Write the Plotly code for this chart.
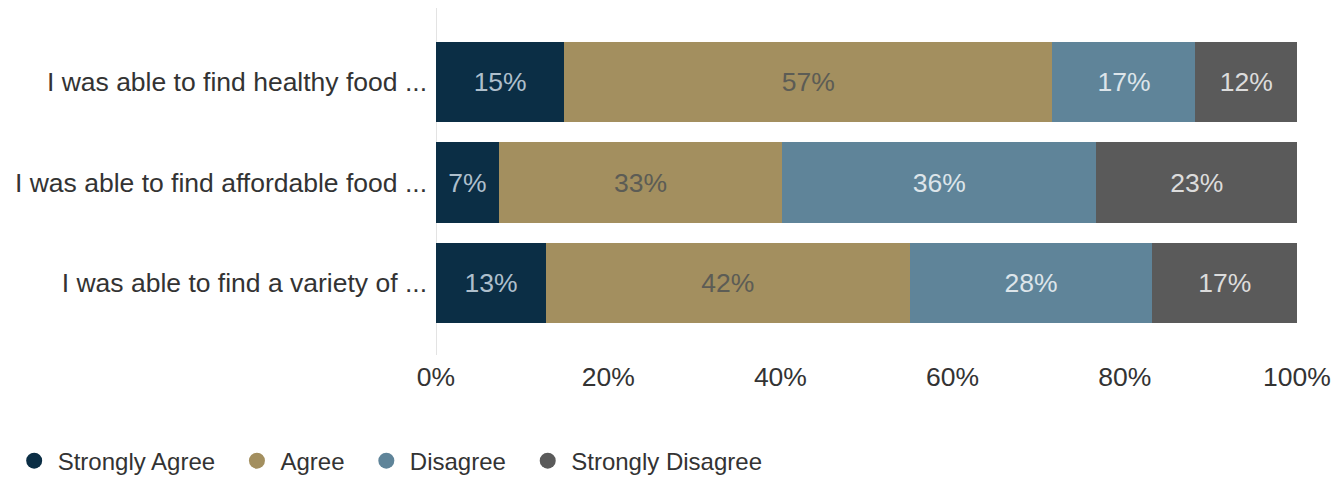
import plotly.graph_objects as go

categories = ["I was able to find healthy food ...",
              "I was able to find affordable food ...",
              "I was able to find a variety of ..."]
series_names = ["Strongly Agree", "Agree", "Disagree", "Strongly Disagree"]
values = {
    "Strongly Agree": [14.9, 7.3, 12.8],
    "Agree": [56.7, 32.9, 42.2],
    "Disagree": [16.6, 36.5, 28.2],
    "Strongly Disagree": [11.8, 23.3, 16.8],
}
labels = {
    "Strongly Agree": [15, 7, 13],
    "Agree": [57, 33, 42],
    "Disagree": [17, 36, 28],
    "Strongly Disagree": [12, 23, 17],
}
x_ticks = [0, 20, 40, 60, 80, 100]

colors = {"Strongly Agree": "#0b2e45", "Agree": "#a38f5f",
          "Disagree": "#5f8499", "Strongly Disagree": "#5a5a5a"}
text_colors = {"Strongly Agree": "#aebfcc", "Agree": "#5c5c55",
               "Disagree": "#dde5ea", "Strongly Disagree": "#dcdcdc"}
FONT = "Liberation Sans, Arial, sans-serif"
PAD = "\u00a0\u00a0"  # extra spacing after legend entries

fig = go.Figure()
for s in series_names:
    fig.add_trace(go.Bar(
        y=categories, x=values[s], orientation="h", name=s,
        marker=dict(color=colors[s], line=dict(width=0)),
        text=[f"{v}%" for v in labels[s]], textposition="inside",
        insidetextanchor="middle", constraintext="none",
        textfont=dict(color=text_colors[s], size=26.5, family=FONT),
        showlegend=False, hoverinfo="skip"))
    fig.add_trace(go.Scatter(
        x=[None], y=[None], mode="markers", name=s + PAD,
        marker=dict(color=colors[s], size=16, symbol="circle"),
        showlegend=True))

# page body has an 8px offset, so the figure is sized to fit inside the window
fig.update_layout(
    barmode="stack", bargap=0.2,
    width=1336, height=470,
    margin=dict(l=428, r=47, t=0, b=123),
    plot_bgcolor="white", paper_bgcolor="white",
    font=dict(family=FONT, size=26.5, color="#333333"),
    uniformtext=dict(mode="show", minsize=10),
    xaxis=dict(range=[0, 100], tickvals=x_ticks,
               ticktext=[f"{t}%" for t in x_ticks],
               showgrid=False, zeroline=False, showline=False,
               ticks="", ticklabelstandoff=3,
               tickfont=dict(size=26.5, color="#333333")),
    yaxis=dict(categoryorder="array", categoryarray=categories,
               range=[2.716, -0.736], showgrid=False, zeroline=False,
               ticks="", ticklabelstandoff=8,
               tickfont=dict(size=26.5, color="#333333")),
    legend=dict(orientation="h", xref="container", yref="container",
                x=0.002, y=0.036, xanchor="left", yanchor="middle",
                traceorder="normal",
                font=dict(size=24, color="#333333"), itemwidth=37),
)
fig.add_shape(type="line", xref="x", yref="paper", x0=0, x1=0, y0=0, y1=1,
              line=dict(color="#e3e3e3", width=2), layer="below")

fig.write_html("out.html")
